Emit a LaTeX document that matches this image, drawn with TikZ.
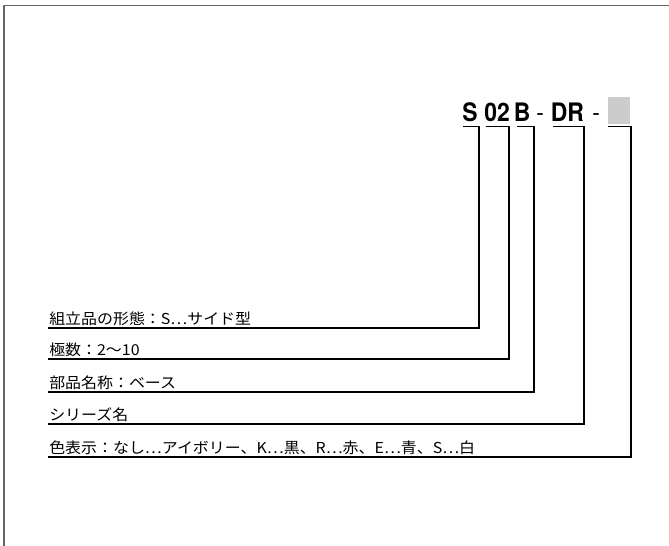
\documentclass[tikz,border=0pt]{standalone}
\usepackage{fontspec}
\newfontfamily\jpfont[FakeStretch=1.06]{Noto Sans CJK JP}
\newfontfamily\codefont[FakeStretch=0.9]{TeX Gyre Heros}

\begin{document}
\begin{tikzpicture}[x=0.025cm, y=-0.025cm, line cap=round, line join=round]

% --- Styles ---
\tikzset{
    frameline/.style={
        draw=black!60,
        line width=1.2pt
    },
    leader/.style={
        draw=black,
        line width=0.75pt,
        line cap=butt,
        line join=miter
    },
    codepart/.style={
        anchor=base west,
        inner sep=0pt,
        font={\codefont\bfseries\fontsize{18.1}{20}\selectfont}
    },
    codedash/.style={
        anchor=base west,
        inner sep=0pt,
        font={\codefont\fontsize{18.1}{20}\selectfont}
    },
    keybox/.style={
        fill=black!20,
        minimum width=0.55cm,
        minimum height=0.675cm,
        inner sep=0pt
    },
    itemtext/.style={
        anchor=base west,
        inner sep=0pt,
        font={\jpfont\fontsize{10.7}{12}\selectfont}
    }
}

\useasboundingbox (0,0) rectangle (669,545);

% --- Kader ---
\draw[frameline] (675,5.5) -- (4,5.5) -- (4,550);

% --- Typecode ---
\node[codepart] (kS)      at (462,121.5)   {S};
\node[codepart] (kpole)   at (484,121.5)   {02};
\node[codepart] (kpart)   at (513.5,121.5) {B};
\node[codedash] (kdashA)  at (536,121.5)   {-};
\node[codepart] (kseries) at (550.5,121.5) {DR};
\node[codedash] (kdashB)  at (592,121.5)   {-};
\node[keybox]   (kcolor)  at (619,110.5)   {};

% --- Begin- en hoekpunten van de verwijslijnen ---
\coordinate (b1) at (463,126.5);  \coordinate (c1) at (479,328);
\coordinate (b2) at (486,126.5);  \coordinate (c2) at (509,359);
\coordinate (b3) at (517,126.5);  \coordinate (c3) at (534,392);
\coordinate (b4) at (553,126.5);  \coordinate (c4) at (584,424);
\coordinate (b5) at (608,126.5);  \coordinate (c5) at (631,457);

\coordinate (u1) at (48,328);
\coordinate (u2) at (48,359);
\coordinate (u3) at (48,392);
\coordinate (u4) at (48,424);
\coordinate (u5) at (48,457);

% --- Verwijslijnen ---
\draw[leader] (b1) -| (c1) -- (u1);
\draw[leader] (b2) -| (c2) -- (u2);
\draw[leader] (b3) -| (c3) -- (u3);
\draw[leader] (b4) -| (c4) -- (u4);
\draw[leader] (b5) -| (c5) -- (u5);

% --- Omschrijvingen ---
\node[itemtext] (form)   at (49,324) {組立品の形態：S…サイド型};
\node[itemtext] (poles)  at (49,355) {極数：2〜10};
\node[itemtext] (name)   at (49,388) {部品名称：ベース};
\node[itemtext] (series) at (49,420) {シリーズ名};
\node[itemtext] (colour) at (49,453) {色表示：なし…アイボリー、K…黒、R…赤、E…青、S…白};

\end{tikzpicture}
\end{document}
